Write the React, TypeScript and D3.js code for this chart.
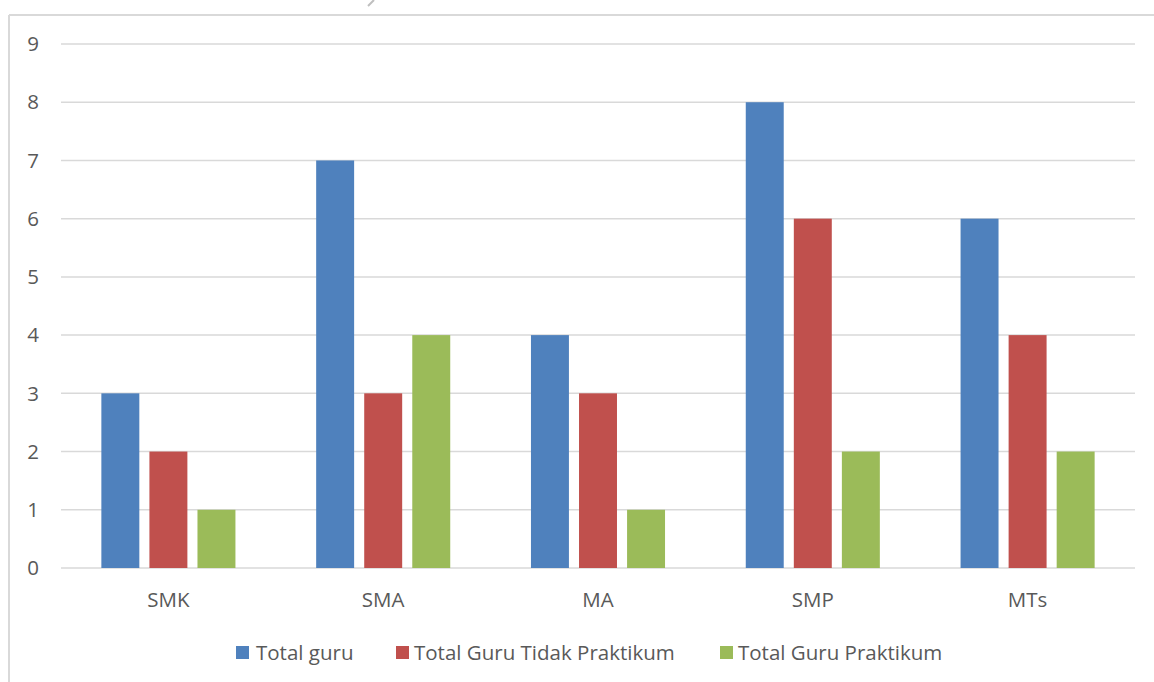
import React from "react";
import * as d3 from "d3";

const categories = ["SMK", "SMA", "MA", "SMP", "MTs"];
const seriesNames = ["Total guru", "Total Guru Tidak Praktikum", "Total Guru Praktikum"];
const totalGuru = [3, 7, 4, 8, 6];
const totalTidakPraktikum = [2, 3, 3, 6, 4];
const totalPraktikum = [1, 4, 1, 2, 2];
const yTicks = [0, 1, 2, 3, 4, 5, 6, 7, 8, 9];
const colors = ["#4F81BD", "#C0504D", "#9BBB59"];

const W = 1154;
const H = 682;
const FONT = "'Open Sans', sans-serif";

export default function App() {
  const series = [totalGuru, totalTidakPraktikum, totalPraktikum];
  const x0 = d3.scaleBand<string>().domain(categories).range([61, 1135]).padding(0);
  const x1 = d3
    .scaleBand<string>()
    .domain(seriesNames)
    .range([0, x0.bandwidth()])
    .paddingInner(0.21)
    .paddingOuter(0.84);
  const y = d3.scaleLinear().domain([0, 9]).range([568, 44]);

  const legendItems = [
    { sq: 236, tx: 256 },
    { sq: 396, tx: 414 },
    { sq: 720, tx: 738 },
  ];

  return (
    <svg
      width={W}
      height={H}
      style={{ position: "absolute", left: 0, top: 0, background: "#fff" }}
    >
      <rect x={0} y={0} width={W} height={H} fill="#fff" />
      {/* chart border */}
      <line x1={9} x2={W} y1={15} y2={15} stroke="#D9D9D9" strokeWidth={2} />
      <line x1={9} x2={9} y1={15} y2={H} stroke="#D9D9D9" strokeWidth={2} />
      <line x1={368} x2={374} y1={6} y2={0} stroke="#BFBFBF" strokeWidth={2} />

      {/* gridlines */}
      {yTicks.map((t) => (
        <g key={t}>
          <line x1={61} x2={1135} y1={y(t)} y2={y(t)} stroke="#D9D9D9" strokeWidth={1.5} />
          <text
            x={39}
            y={y(t)}
            dy="0.35em"
            textAnchor="end"
            fontFamily={FONT}
            fontSize={20.5}
            fill="#595959"
          >
            {t}
          </text>
        </g>
      ))}

      {/* bars */}
      {categories.map((c, i) => (
        <g key={c} transform={`translate(${x0(c)},0)`}>
          {series.map((s, j) => (
            <rect
              key={j}
              x={x1(seriesNames[j])}
              y={y(s[i])}
              width={x1.bandwidth()}
              height={y(0) - y(s[i])}
              fill={colors[j]}
            />
          ))}
          <text
            x={x0.bandwidth() / 2}
            y={607}
            textAnchor="middle"
            fontFamily={FONT}
            fontSize={20.5}
            fill="#595959"
          >
            {c}
          </text>
        </g>
      ))}

      {/* legend */}
      {seriesNames.map((n, j) => (
        <g key={n}>
          <rect x={legendItems[j].sq} y={646} width={13} height={13} fill={colors[j]} />
          <text
            x={legendItems[j].tx}
            y={660}
            fontFamily={FONT}
            fontSize={20.5}
            fill="#595959"
          >
            {n}
          </text>
        </g>
      ))}
    </svg>
  );
}
